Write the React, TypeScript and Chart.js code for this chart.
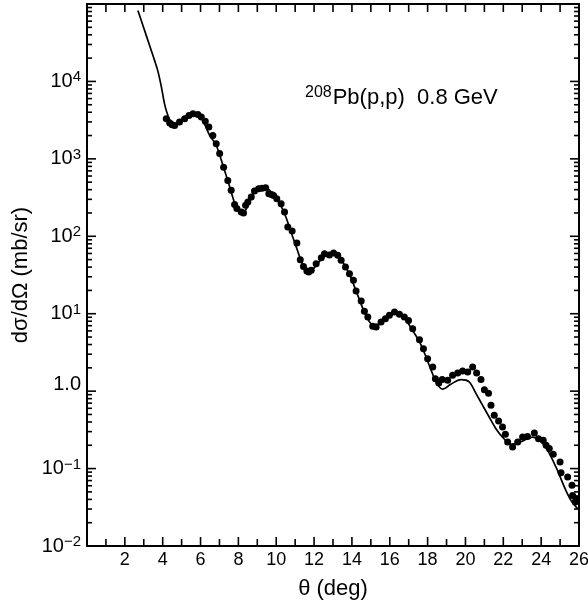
import React, { useEffect, useRef } from 'react';
import { Chart, registerables } from 'chart.js';

Chart.register(...registerables);

const FONT = '"Liberation Sans", Arial, Helvetica, sans-serif';

// Theory curve (solid line)
const curveTheta = [
  2.69, 3.0, 3.3, 3.57, 3.75, 3.93, 4.1, 4.28, 4.4, 4.63, 4.98, 5.42, 5.78, 6.12, 6.48, 6.83,
  7.2, 7.5, 7.8, 8.05, 8.25, 8.5, 8.85, 9.2, 9.5, 9.85, 10.2, 10.5, 10.8, 11.1, 11.4, 11.7,
  12.0, 12.4, 12.8, 13.1, 13.5, 13.9, 14.3, 14.7, 15.1, 15.4, 15.8, 16.25, 16.7, 17.2, 17.6,
  17.92, 18.27, 18.45, 18.8, 19.2, 19.77, 20.2, 20.56, 20.9, 21.26, 21.6, 21.96, 22.4, 22.9,
  23.55, 23.9, 24.34, 24.78, 25.31, 25.6, 25.95,
];
const curveSigma = [
  82600, 49000, 29500, 18700, 13500, 8500, 5100, 3600, 3100, 2850, 3130, 3830, 3830, 3130, 2010, 1500,
  800, 470, 270, 205, 198, 250, 370, 425, 420, 340, 260, 180, 110, 68, 43, 35,
  39, 51, 58, 58, 47, 31, 17.5, 10, 7.2, 7.3, 8.8, 10.3, 9.3, 6.1, 4.2,
  2.75, 1.65, 1.3, 1.06, 1.22, 1.41, 1.32, 0.93, 0.66, 0.46, 0.33, 0.255, 0.206, 0.22,
  0.255, 0.235, 0.172, 0.105, 0.052, 0.038, 0.03,
];

// Measured data (filled circles)
const dataTheta = [
  4.19, 4.37, 4.5, 4.63, 4.89, 5.16, 5.39, 5.6, 5.86, 6.04, 6.25, 6.44, 6.65, 6.83, 7.01, 7.22,
  7.44, 7.62, 7.8, 7.92, 8.15, 8.27, 8.38, 8.5, 8.68, 8.85, 9.07, 9.25, 9.44, 9.61, 9.75, 9.86,
  10.03, 10.26, 10.44, 10.61, 10.84, 11.09, 11.27, 11.44, 11.62, 11.72, 11.85, 12.11, 12.38, 12.55,
  12.81, 13.03, 13.25, 13.43, 13.66, 13.87, 14.08, 14.22, 14.49, 14.66, 14.84, 15.1, 15.28, 15.54,
  15.77, 15.98, 16.25, 16.51, 16.77, 16.99, 17.21, 17.57, 17.78, 18.0, 18.27, 18.41, 18.59, 18.77,
  19.06, 19.32, 19.59, 19.85, 20.12, 20.38, 20.59, 20.82, 21.0, 21.22, 21.35, 21.52, 21.75, 21.96,
  22.11, 22.23, 22.49, 22.76, 23.02, 23.28, 23.64, 23.86, 24.11, 24.26, 24.43, 24.64, 25.0, 25.05,
  25.4, 25.63, 25.66, 25.8, 25.84,
];
const dataSigma = [
  3300, 2900, 2750, 2700, 2990, 3300, 3640, 3830, 3750, 3460, 3070, 2570, 2010, 1570, 1170, 782,
  527, 392, 258, 228, 206, 200, 251, 277, 321, 384, 412, 417, 424, 355, 347, 337,
  306, 264, 206, 132, 117, 81.7, 49.9, 40.8, 35.5, 34.5, 36.3, 44.3, 53, 59.6,
  57.5, 60.7, 56.8, 48.9, 40.1, 32.9, 27, 19.6, 14.6, 10.8, 9.06, 6.87, 6.73, 7.8,
  8.63, 9.53, 10.5, 9.82, 9.06, 8.2, 6.41, 4.62, 3.54, 2.63, 2.05, 1.45, 1.27, 1.41,
  1.38, 1.6, 1.71, 1.82, 1.77, 2.05, 1.71, 1.41, 1.04, 0.94, 0.656, 0.488, 0.411, 0.344,
  0.277, 0.22, 0.19, 0.22, 0.255, 0.26, 0.288, 0.243, 0.232, 0.2, 0.181, 0.153, 0.122, 0.088,
  0.078, 0.061, 0.045, 0.037, 0.041,
];

// Axis ticks / labels
const xTickValues = [2, 4, 6, 8, 10, 12, 14, 16, 18, 20, 22, 24, 26];
const yTickValues = [1e-2, 1e-1, 1, 1e1, 1e2, 1e3, 1e4];
const yTickBase = ['10', '10', '1.0', '10', '10', '10', '10'];
const yTickExp = ['\u22122', '\u22121', '', '1', '2', '3', '4'];

const annotationSup = '208';
const annotationText = 'Pb(p,p)  0.8 GeV';

const framePlugin = {
  id: 'frame',
  afterDraw(chart: any) {
    const { ctx, chartArea: a } = chart;
    const x = chart.scales.x;
    const y = chart.scales.y;
    ctx.save();
    ctx.strokeStyle = '#000';
    ctx.fillStyle = '#000';
    ctx.lineCap = 'butt';
    const seg = (x1: number, y1: number, x2: number, y2: number) => {
      ctx.beginPath();
      ctx.moveTo(x1, y1);
      ctx.lineTo(x2, y2);
      ctx.stroke();
    };
    ctx.lineWidth = 1.6;
    // x ticks every degree, inward on top and bottom
    for (let d = Math.ceil(x.min) + 1; d < x.max; d++) {
      const px = x.getPixelForValue(d);
      const len = d % 2 === 0 ? 9 : 7;
      seg(px, a.bottom, px, a.bottom - len);
      seg(px, a.top, px, a.top + 8);
    }
    // y ticks, decades + minor, inward on left and right
    const eMin = Math.round(Math.log10(y.min));
    const eMax = Math.round(Math.log10(y.max));
    for (let e = eMin; e < eMax; e++) {
      for (let m = 1; m <= 9; m++) {
        const v = m * Math.pow(10, e);
        const py = y.getPixelForValue(v);
        const len = m === 1 ? 9 : 5;
        if (m === 1 && e === eMin) continue;
        seg(a.left, py, a.left + len, py);
        seg(a.right, py, a.right - len, py);
      }
    }
    // frame
    ctx.lineWidth = 2;
    ctx.strokeRect(a.left, a.top, a.right - a.left, a.bottom - a.top);

    // y tick labels with superscripts
    const rightEdge = a.left - 6;
    ctx.textBaseline = 'alphabetic';
    ctx.textAlign = 'left';
    yTickValues.forEach((v, i) => {
      const py = y.getPixelForValue(v);
      const exp = yTickExp[i];
      const base = yTickBase[i];
      if (!exp) {
        ctx.font = `20px ${FONT}`;
        const w = ctx.measureText(base).width;
        ctx.fillText(base, rightEdge - w, py - 1);
        return;
      }
      ctx.font = `15px ${FONT}`;
      const ew = ctx.measureText(exp).width;
      ctx.fillText(exp, rightEdge - ew, py);
      ctx.font = `20px ${FONT}`;
      const bw = ctx.measureText(base).width;
      ctx.fillText(base, rightEdge - ew - bw, py + 5.5);
    });

    // annotation
    ctx.font = `16px ${FONT}`;
    ctx.fillText(annotationSup, 305, 97);
    const sw = ctx.measureText(annotationSup).width;
    ctx.font = `22px ${FONT}`;
    ctx.fillText(annotationText, 305 + sw + 1, 103.5);
    ctx.restore();
  },
};

export default function App() {
  const ref = useRef<HTMLCanvasElement>(null);
  useEffect(() => {
    if (!ref.current) return;
    Chart.defaults.font.family = FONT;
    const chart = new Chart(ref.current, {
      type: 'scatter',
      data: {
        datasets: [
          {
            label: 'theory',
            data: curveTheta.map((t, i) => ({ x: t, y: curveSigma[i] })),
            showLine: true,
            borderColor: '#000',
            backgroundColor: '#000',
            borderWidth: 1.7,
            pointRadius: 0,
            cubicInterpolationMode: 'monotone',
          } as any,
          {
            label: 'data',
            data: dataTheta.map((t, i) => ({ x: t, y: dataSigma[i] })),
            showLine: false,
            pointRadius: 3.5,
            pointBackgroundColor: '#000',
            pointBorderColor: '#000',
            pointBorderWidth: 0,
          } as any,
        ],
      },
      options: {
        responsive: false,
        animation: false,
        devicePixelRatio: 1,
        layout: { padding: { top: 4, right: 9, left: 0, bottom: 0 } },
        plugins: { legend: { display: false }, tooltip: { enabled: false } },
        scales: {
          x: {
            type: 'linear',
            min: 0,
            max: 26,
            grid: { display: false, drawTicks: false },
            border: { display: false },
            ticks: {
              autoSkip: false,
              maxRotation: 0,
              padding: 3,
              color: '#000',
              font: { size: 18, family: FONT },
              callback: (v: any) => String(v),
            },
            afterBuildTicks: (s: any) => {
              s.ticks = xTickValues.map((v) => ({ value: v }));
            },
            afterFit: (s: any) => {
              s.height = 58;
              s.paddingLeft = 0;
              s.paddingRight = 0;
            },
            title: {
              display: true,
              text: '\u03b8 (deg)',
              color: '#000',
              font: { size: 22, family: FONT },
              padding: { top: 0, bottom: 2 },
            },
          },
          y: {
            type: 'logarithmic',
            min: 1e-2,
            max: 1e5,
            grid: { display: false, drawTicks: false },
            border: { display: false },
            ticks: { display: false },
            afterFit: (s: any) => {
              s.width = 87;
              s.paddingTop = 0;
              s.paddingBottom = 0;
            },
            title: {
              display: true,
              text: 'd\u03c3/d\u03a9 (mb/sr)',
              color: '#000',
              font: { size: 22, family: FONT },
              padding: { top: 8, bottom: 0 },
            },
          },
        },
      } as any,
      plugins: [framePlugin],
    });
    return () => chart.destroy();
  }, []);
  return (
    <div style={{ position: 'absolute', left: 0, top: 0, width: 588, height: 604, background: '#fff' }}>
      <canvas ref={ref} width={588} height={604} style={{ display: 'block' }} />
    </div>
  );
}
